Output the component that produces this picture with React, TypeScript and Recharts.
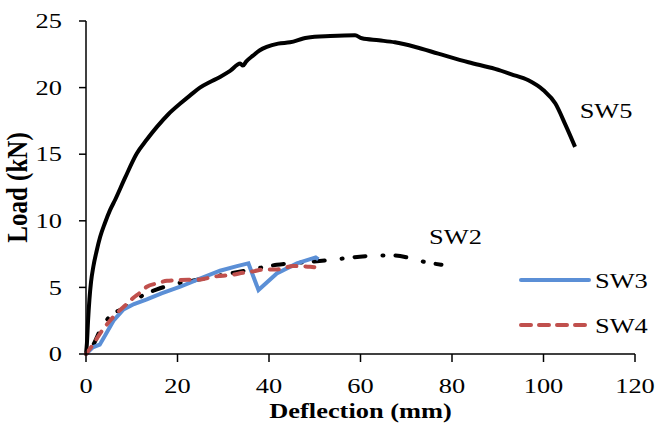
import React from 'react';
import { LineChart, Line, XAxis, YAxis, Legend } from 'recharts';

const FONT = '"Liberation Serif", "Times New Roman", serif';
const STRETCH = 1.2; // source image is a bit wider than tall, so text gets squashed out sideways

// SW5
const sw5Deflection = [0, 0.2, 0.45, 0.75, 1.1, 1.6, 2.3, 3.1, 4.1, 5.25, 6.4, 8.5, 11.1, 13.3, 15.5, 18, 20.6, 22.7, 24.9, 27, 29.3, 31.5, 33.7, 34.3, 35.0, 36.5, 38, 39.5, 42, 44.6, 48.3, 53.4, 58.8, 60.3, 64, 67.5, 72, 77, 83.6, 89.4, 93, 96.7, 100, 102.6, 104.8, 106.9];
const sw5Load = [0, 0.8, 2.5, 4.1, 5.4, 6.55, 7.7, 8.8, 9.8, 10.8, 11.6, 13.2, 15.05, 16.1, 17.05, 18, 18.8, 19.4, 20, 20.4, 20.8, 21.25, 21.8, 21.65, 21.95, 22.4, 22.8, 23.05, 23.3, 23.4, 23.75, 23.87, 23.93, 23.7, 23.55, 23.4, 23.05, 22.55, 21.9, 21.4, 21.0, 20.55, 19.8, 18.8, 17.2, 15.55];

// SW2
const sw2Deflection = [0, 1.6, 3.4, 6, 8.2, 11.4, 15.5, 20, 24, 27.9, 31.5, 37, 41.7, 48.3, 54.5, 58.1, 61.4, 63.6, 67.5, 71.3, 74.2, 77.7];
const sw2Load = [0, 0.7, 2.0, 3.05, 3.4, 4.2, 4.85, 5.3, 5.55, 5.8, 6.05, 6.4, 6.7, 6.9, 7.1, 7.25, 7.35, 7.4, 7.4, 7.15, 6.9, 6.7];

// SW3
const sw3Deflection = [0, 1.5, 3.0, 4.2, 6.0, 8.2, 10.5, 13.3, 16.5, 20.6, 24.5, 29.3, 33, 35.5, 37.7, 41.7, 46.1, 50.2, 50.8];
const sw3Load = [0, 0.5, 0.7, 1.4, 2.5, 3.35, 3.75, 4.1, 4.55, 5.05, 5.6, 6.25, 6.6, 6.8, 4.8, 6.05, 6.8, 7.25, 7.1];

// SW4
const sw4Deflection = [0, 1.5, 3.1, 5, 6.7, 8.9, 10.3, 11.8, 13.3, 15.5, 17.7, 20.6, 25, 27.9, 32, 34.4, 36.5, 39, 41.7, 45.3, 49, 51.5];
const sw4Load = [0, 0.7, 1.55, 2.4, 3.05, 3.75, 4.2, 4.6, 5.05, 5.3, 5.5, 5.55, 5.6, 5.8, 5.95, 6.1, 6.2, 6.35, 6.35, 6.6, 6.55, 6.4];

const xTicks = [0, 20, 40, 60, 80, 100, 120];
const yTicks = [0, 5, 10, 15, 20, 25];

const toPoints = (xs: number[], ys: number[]) => xs.map((x, i) => ({ x, y: ys[i] }));

const sw5 = toPoints(sw5Deflection, sw5Load);
const sw2 = toPoints(sw2Deflection, sw2Load);
const sw3 = toPoints(sw3Deflection, sw3Load);
const sw4 = toPoints(sw4Deflection, sw4Load);

const BLUE = '#5B8FD6';
const RED = '#C0504D';

const legendItems = [
  { name: 'SW3', color: BLUE, dash: undefined },
  { name: 'SW4', color: RED, dash: '10 8' },
];

const WideText = ({ x, y, anchor = 'middle', bold = false, size = 22, rotate, dy, children }: any) => (
  <text
    transform={`translate(${x},${y}) scale(${STRETCH},1)${rotate ? ` rotate(${rotate})` : ''}`}
    textAnchor={anchor}
    dy={dy}
    fontFamily={FONT}
    fontSize={size}
    fontWeight={bold ? 'bold' : 'normal'}
    fill="#000"
  >
    {children}
  </text>
);

const XTick = (p: any) => <WideText x={p.x} y={p.y} dy="0.71em">{p.payload.value}</WideText>;
const YTick = (p: any) => <WideText x={p.x} y={p.y} anchor="end" dy="0.33em">{p.payload.value}</WideText>;

// curve name written just past the last point of a series
const endLabel = (name: string, count: number, dx: number, dy: number) => (p: any) => {
  if (p.index !== count - 1) return null;
  const x = p.x ?? p.viewBox?.x;
  const y = p.y ?? p.viewBox?.y;
  return <WideText x={x + dx} y={y + dy}>{name}</WideText>;
};

const LegendBox = () => (
  <svg width={140} height={80}>
    {legendItems.map((item, i) => (
      <g key={item.name}>
        <line x1={4} x2={72} y1={18 + i * 45} y2={18 + i * 45} stroke={item.color} strokeWidth={4} strokeDasharray={item.dash} strokeLinecap="round" />
        <WideText x={78} y={26 + i * 45} anchor="start">{item.name}</WideText>
      </g>
    ))}
  </svg>
);

export default function App() {
  return (
    <div style={{ position: 'absolute', left: 0, top: 0, background: '#fff' }}>
      <LineChart width={658} height={428} margin={{ top: 21, right: 23, bottom: 0, left: 0 }}>
        <XAxis
          type="number"
          dataKey="x"
          domain={[0, 120]}
          ticks={xTicks}
          height={74}
          stroke="#000"
          strokeWidth={1.5}
          tickSize={8}
          tickMargin={15}
          tick={<XTick />}
          label={{
            content: ({ viewBox }: any) => (
              <WideText x={viewBox.x + viewBox.width / 2} y={viewBox.y + 64} bold>Deflection (mm)</WideText>
            ),
          }}
        />
        <YAxis
          type="number"
          dataKey="y"
          domain={[0, 25]}
          ticks={yTicks}
          width={86}
          stroke="#000"
          strokeWidth={1.5}
          tickSize={7}
          tickMargin={17}
          tick={<YTick />}
          label={{
            content: ({ viewBox }: any) => (
              <WideText x={viewBox.x + 27} y={viewBox.y + viewBox.height / 2} rotate={-90} size={25} bold>Load (kN)</WideText>
            ),
          }}
        />
        <Legend
          layout="vertical"
          align="center"
          verticalAlign="middle"
          wrapperStyle={{ left: 517, top: 262, width: 140 }}
          content={<LegendBox />}
        />
        <Line data={sw5} dataKey="y" name="SW5" type="monotone" stroke="#000" strokeWidth={4} dot={false} isAnimationActive={false} legendType="none"
          label={endLabel('SW5', sw5.length, 31, -29)} />
        <Line data={sw2} dataKey="y" name="SW2" type="monotone" stroke="#000" strokeWidth={4} strokeDasharray="1 12 11 17" strokeLinecap="round" dot={false} isAnimationActive={false} legendType="none"
          label={endLabel('SW2', sw2.length, 14, -21)} />
        <Line data={sw3} dataKey="y" name="SW3" type="linear" stroke={BLUE} strokeWidth={4} dot={false} isAnimationActive={false} />
        <Line data={sw4} dataKey="y" name="SW4" type="monotone" stroke={RED} strokeWidth={4} strokeDasharray="9 9" strokeLinecap="round" dot={false} isAnimationActive={false} />
      </LineChart>
    </div>
  );
}
